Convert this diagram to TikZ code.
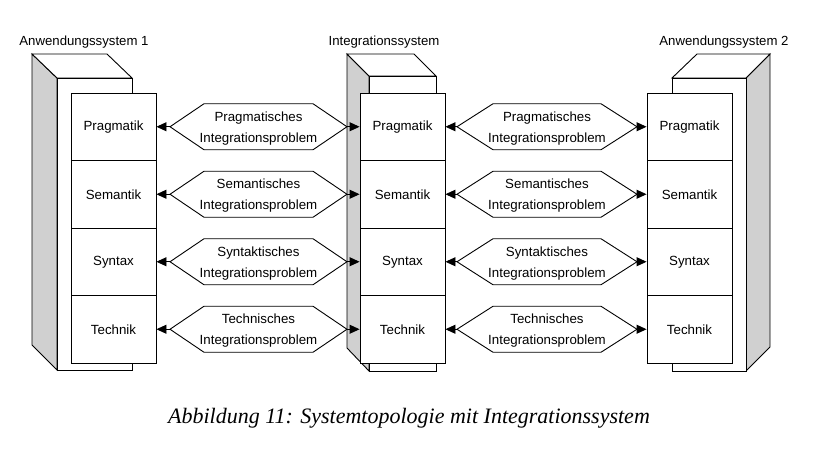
\documentclass[tikz,border=0pt]{standalone}
\usepackage{fontspec}
\setmainfont{Liberation Sans}
\newfontfamily\capfont{Liberation Serif}
\usetikzlibrary{arrows.meta,calc}
\definecolor{sidegray}{RGB}{208,208,208}
\newcommand\hexprob[6]{%
  \draw[hexa] (#2,#4) -- (#2+#5,#4-23) -- (#3-#5,#4-23) -- (#3,#4) -- (#3-#5,#4+23) -- (#2+#5,#4+23) -- cycle;
  \coordinate (#1w) at (#2,#4);
  \coordinate (#1e) at (#3,#4);
  \node[htext] (#1) at ({(#2+#3)/2},#4+1.5) {#6};
}
\begin{document}
\begin{tikzpicture}[x=1pt,y=-1pt,line width=0.9pt,
  lay/.style={draw, fill=white, minimum width=85pt, minimum height=67.5pt, inner sep=0pt, font=\fontsize{13.3}{16}\selectfont},
  side/.style={draw, fill=sidegray},
  face/.style={draw, fill=white},
  hexa/.style={draw},
  htext/.style={align=center, font=\fontsize{13.3}{21}\selectfont, inner sep=0pt},
  arr/.style={-{Triangle[length=10pt,width=9pt]}},
  systitle/.style={font=\fontsize{13.2}{16}\selectfont, inner sep=0pt, anchor=base}]
\useasboundingbox (0,0) rectangle (820,466);
% titles
\node[systitle] (t1) at (84,45) {Anwendungssystem 1};
\node[systitle] (t2) at (384,45) {Integrationssystem};
\node[systitle] (t3) at (724,45) {Anwendungssystem 2};
% left cabinet
\draw[side] (32,54) -- (57,78) -- (57,370) -- (32,345) -- cycle;
\draw[face] (32,54) -- (107,54) -- (132,78) -- (57,78) -- cycle;
\draw[face] (57,78) rectangle (132,370);
% middle cabinet
\draw[side] (347,54) -- (369,76) -- (369,371) -- (347,348) -- cycle;
\draw[face] (347,54) -- (414,54) -- (436,76) -- (369,76) -- cycle;
\draw[face] (369,76) rectangle (436,371);
% right cabinet
\draw[side] (746,78) -- (770,54) -- (770,347) -- (746,371) -- cycle;
\draw[face] (672,78) -- (697,54) -- (770,54) -- (746,78) -- cycle;
\draw[face] (672,78) rectangle (746,371);
% layer stacks
\node[lay] (L1) at (113.5,126.75) {Pragmatik};
\node[lay] (L2) at (113.5,194.25) {Semantik};
\node[lay] (L3) at (113.5,261.75) {Syntax};
\node[lay] (L4) at (113.5,329.25) {Technik};
\node[lay] (M1) at (402.5,126.75) {Pragmatik};
\node[lay] (M2) at (402.5,194.25) {Semantik};
\node[lay] (M3) at (402.5,261.75) {Syntax};
\node[lay] (M4) at (402.5,329.25) {Technik};
\node[lay] (R1) at (689.5,126.75) {Pragmatik};
\node[lay] (R2) at (689.5,194.25) {Semantik};
\node[lay] (R3) at (689.5,261.75) {Syntax};
\node[lay] (R4) at (689.5,329.25) {Technik};
% hexagons left
\hexprob{A1}{170}{347}{126.75}{34}{Pragmatisches\\Integrationsproblem}
\hexprob{A2}{170}{347}{194.25}{34}{Semantisches\\Integrationsproblem}
\hexprob{A3}{170}{347}{261.75}{34}{Syntaktisches\\Integrationsproblem}
\hexprob{A4}{170}{347}{329.25}{34}{Technisches\\Integrationsproblem}
% hexagons right
\hexprob{B1}{457}{637}{126.75}{36}{Pragmatisches\\Integrationsproblem}
\hexprob{B2}{457}{637}{194.25}{36}{Semantisches\\Integrationsproblem}
\hexprob{B3}{457}{637}{261.75}{36}{Syntaktisches\\Integrationsproblem}
\hexprob{B4}{457}{637}{329.25}{36}{Technisches\\Integrationsproblem}
% arrows
\foreach \i in {1,2,3,4}{
  \draw[arr] (A\i w) -- (L\i.east);
  \draw[arr] (A\i e) -- (M\i.west);
  \draw[arr] (B\i w) -- (M\i.east);
  \draw[arr] (B\i e) -- (R\i.west);
}
% caption
\node[font=\capfont\itshape\fontsize{22}{26}\selectfont, inner sep=0pt, anchor=base] (cap) at (409,423) {Abbildung 11: Systemtopologie mit Integrationssystem};
\end{tikzpicture}
\end{document}
